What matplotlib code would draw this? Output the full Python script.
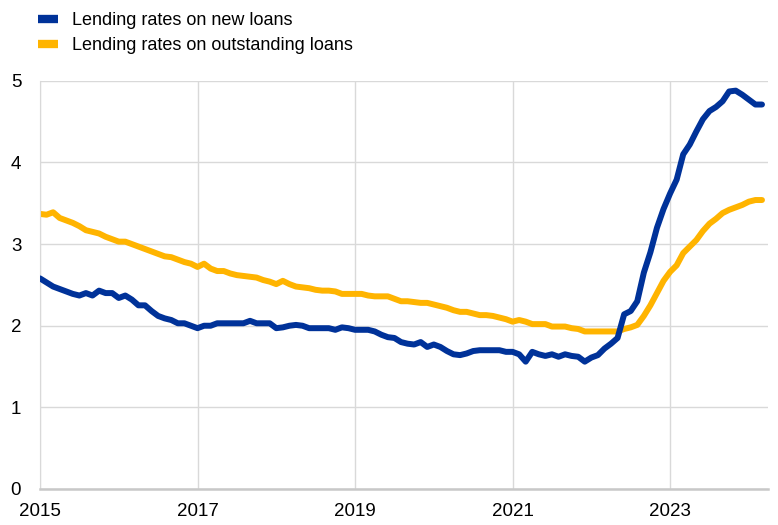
import matplotlib
matplotlib.use("Agg")
import matplotlib.pyplot as plt
import numpy as np

plt.rcParams['font.family'] = ['Liberation Sans', 'DejaVu Sans']

# monthly data, Jan 2015 - Mar 2024
start_year = 2015
new_loans = [
    2.58, 2.53, 2.48, 2.45, 2.42, 2.39, 2.37, 2.40, 2.37, 2.43, 2.40, 2.40,
    2.34, 2.37, 2.32, 2.25, 2.25, 2.18, 2.12, 2.09, 2.07, 2.03, 2.03, 2.00,
    1.97, 2.00, 2.00, 2.03, 2.03, 2.03, 2.03, 2.03, 2.06, 2.03, 2.03, 2.03,
    1.97, 1.98, 2.00, 2.01, 2.00, 1.97, 1.97, 1.97, 1.97, 1.95, 1.98, 1.97,
    1.95, 1.95, 1.95, 1.93, 1.89, 1.86, 1.85, 1.80, 1.78, 1.77, 1.80, 1.74,
    1.77, 1.74, 1.69, 1.65, 1.64, 1.66, 1.69, 1.70, 1.70, 1.70, 1.70, 1.68,
    1.68, 1.65, 1.56, 1.68, 1.65, 1.63, 1.65, 1.62, 1.65, 1.63, 1.62, 1.56,
    1.61, 1.64, 1.72, 1.78, 1.85, 2.14, 2.18, 2.30, 2.65, 2.90, 3.20, 3.43,
    3.62, 3.79, 4.10, 4.22, 4.38, 4.53, 4.63, 4.68, 4.75, 4.87, 4.88, 4.83,
    4.77, 4.71, 4.71,
]
outstanding_loans = [
    3.37, 3.36, 3.39, 3.32, 3.29, 3.26, 3.22, 3.17, 3.15, 3.13, 3.09, 3.06,
    3.03, 3.03, 3.00, 2.97, 2.94, 2.91, 2.88, 2.85, 2.84, 2.81, 2.78, 2.76,
    2.72, 2.76, 2.70, 2.67, 2.67, 2.64, 2.62, 2.61, 2.60, 2.59, 2.56, 2.54,
    2.51, 2.55, 2.51, 2.48, 2.47, 2.46, 2.44, 2.43, 2.43, 2.42, 2.39, 2.39,
    2.39, 2.39, 2.37, 2.36, 2.36, 2.36, 2.33, 2.30, 2.30, 2.29, 2.28, 2.28,
    2.26, 2.24, 2.22, 2.19, 2.17, 2.17, 2.15, 2.13, 2.13, 2.12, 2.10, 2.08,
    2.05, 2.07, 2.05, 2.02, 2.02, 2.02, 1.99, 1.99, 1.99, 1.97, 1.96, 1.93,
    1.93, 1.93, 1.93, 1.93, 1.93, 1.96, 1.98, 2.01, 2.12, 2.25, 2.40, 2.55,
    2.66, 2.74, 2.89, 2.97, 3.05, 3.16, 3.25, 3.31, 3.38, 3.42, 3.45, 3.48,
    3.52, 3.54, 3.54,
]
labels = ['Lending rates on new loans', 'Lending rates on outstanding loans']
colors = ['#003299', '#FFB400']
year_ticks = [2015, 2017, 2019, 2021, 2023]
y_ticks = [0, 1, 2, 3, 4, 5]

dates = start_year + np.arange(len(new_loans)) / 12.0

fig = plt.figure(figsize=(7.78, 5.25), dpi=100)
ax = fig.add_axes([0.0514, 0.0686, 0.9356, 0.7774])

ax.plot(dates, new_loans, color=colors[0], lw=4.3, solid_capstyle='round', label=labels[0], zorder=3)
ax.plot(dates, outstanding_loans, color=colors[1], lw=4.3, solid_capstyle='round', label=labels[1], zorder=2)

# a bit of room after the last month, like the original
ax.set_xlim(dates[0], start_year + 110.9 / 12)
ax.set_ylim(0, 5)
ax.set_xticks(year_ticks)
ax.set_xticklabels([str(y) for y in year_ticks])
ax.set_yticks(y_ticks)

ax.grid(True, color='#d9d9d9', lw=1.0)
ax.set_axisbelow(True)
for s in ['top', 'right']:
    ax.spines[s].set_visible(False)
ax.spines['left'].set_color('#d9d9d9')
ax.spines['bottom'].set_color('#c8c8c8')
ax.spines['bottom'].set_linewidth(1.8)
ax.tick_params(axis='both', length=0, labelsize=13.5, colors='#000000')
ax.tick_params(axis='y', pad=13.5)
ax.tick_params(axis='x', pad=10)

fig.legend(loc='upper left', bbox_to_anchor=(0.035, 0.998), frameon=False,
           fontsize=13, handlelength=1.1, handletextpad=0.8, labelspacing=0.45,
           borderaxespad=0.2)
for h in fig.legends[0].get_lines():
    h.set_linewidth(6)
    h.set_solid_capstyle('butt')

fig.savefig('out.png', dpi=100)
